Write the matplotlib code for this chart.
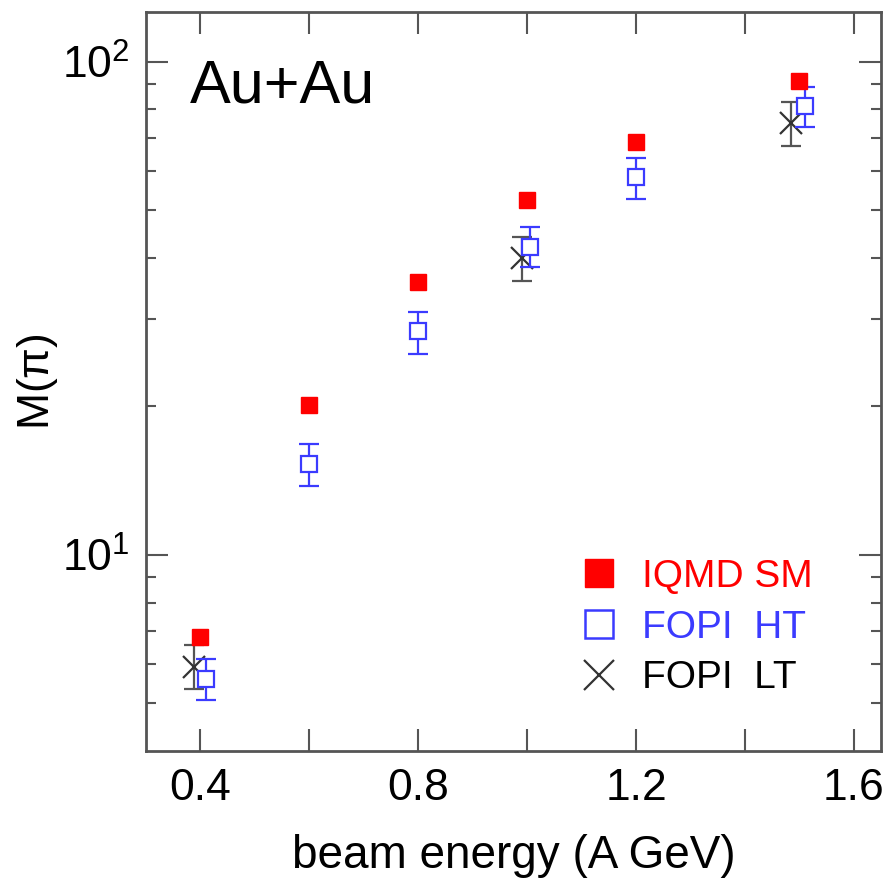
import math
import matplotlib
matplotlib.use("Agg")
import matplotlib.pyplot as plt
from matplotlib.ticker import FixedLocator, NullFormatter, FuncFormatter
from matplotlib.lines import Line2D

plt.rcParams['font.family'] = ['Liberation Sans', 'DejaVu Sans']
plt.rcParams['mathtext.fontset'] = 'custom'
plt.rcParams['mathtext.rm'] = 'Liberation Sans'
plt.rcParams['mathtext.it'] = 'Liberation Sans:italic'
plt.rcParams['mathtext.default'] = 'regular'

# IQMD soft-EOS calculation
iqmd_e = [0.4, 0.6, 0.8, 1.0, 1.2, 1.5]
iqmd_m = [6.8, 20.1, 35.8, 52.4, 68.6, 91.2]

# FOPI high-threshold measurement
ht_e = [0.41, 0.6, 0.8, 1.006, 1.2, 1.51]
ht_m = [5.60, 15.3, 28.4, 42.1, 58.3, 81.4]
ht_lo = [5.07, 13.8, 25.5, 38.3, 52.7, 73.8]
ht_hi = [6.15, 16.8, 31.0, 46.2, 63.7, 88.9]

# FOPI low-threshold measurement
lt_e = [0.388, 0.991, 1.484]
lt_m = [5.91, 39.9, 75.0]
lt_lo = [5.35, 35.9, 67.4]
lt_hi = [6.56, 44.1, 82.8]

x_ticks = [0.4, 0.6, 0.8, 1.0, 1.2, 1.4, 1.6]
x_labels = ['0.4', '', '0.8', '', '1.2', '', '1.6']

red = '#ff0000'
blue = '#3b3bff'
dark = '#333333'

fig = plt.figure(figsize=(8.93, 8.82), dpi=100)
ax = fig.add_axes([146 / 893, 1 - 751 / 882, (881 - 146) / 893, (751 - 12) / 882])
ax.set_yscale('log')
ax.set_xlim(0.3, 1.65)
ax.set_ylim(4.0, 126)

def yerr(m, lo, hi):
    return [[a - b for a, b in zip(m, lo)], [c - a for a, c in zip(m, hi)]]

ax.errorbar(lt_e, lt_m, yerr=yerr(lt_m, lt_lo, lt_hi), fmt='x', color=dark,
            ecolor='#555555', elinewidth=1.6, capsize=7, capthick=1.6,
            markersize=16, markeredgewidth=1.6, zorder=3)
ax.errorbar(ht_e, ht_m, yerr=yerr(ht_m, ht_lo, ht_hi), fmt='s', color=blue,
            mfc='white', mec=blue, ecolor=blue, elinewidth=1.6, capsize=7,
            capthick=1.6, markersize=12, markeredgewidth=1.6, zorder=4)
ax.plot(iqmd_e, iqmd_m, 's', color=red, markersize=12, zorder=5, linestyle='none')

# ticks
ax.xaxis.set_major_locator(FixedLocator(x_ticks))
ax.set_xticklabels(x_labels)
ax.yaxis.set_major_locator(FixedLocator([10, 100]))
ax.yaxis.set_minor_locator(FixedLocator([5, 6, 7, 8, 9, 20, 30, 40, 50, 60, 70, 80, 90]))
ax.yaxis.set_minor_formatter(NullFormatter())
ax.yaxis.set_major_formatter(FuncFormatter(lambda v, p: r'$10^{%d}$' % round(math.log10(v))))
ax.tick_params(which='both', direction='in', top=True, right=True, color='#555555')
ax.tick_params(which='major', length=16, width=1.5, labelsize=32, pad=12)
ax.tick_params(which='minor', length=7.5, width=1.5)
for s in ax.spines.values():
    s.set_linewidth(2.0)
    s.set_color('#555555')

ax.set_xlabel('beam energy (A GeV)', fontsize=33, labelpad=18)
ax.set_ylabel(r'M($\pi$)', fontsize=32, labelpad=1)

ax.text(0.06, 0.898, 'Au+Au', transform=ax.transAxes, fontsize=44,
        ha='left', va='center')

handles = [
    Line2D([], [], marker='s', color=red, linestyle='none', markersize=20),
    Line2D([], [], marker='s', mfc='white', mec=blue, color=blue, linestyle='none',
           markersize=20, markeredgewidth=1.8),
    Line2D([], [], marker='x', color=dark, linestyle='none', markersize=22,
           markeredgewidth=1.6),
]
labels = ['IQMD SM', 'FOPI  HT', 'FOPI  LT']
ax.legend(handles, labels, loc='upper left', bbox_to_anchor=(0.59, 0.26),
          frameon=False, fontsize=28, labelcolor=[red, blue, 'black'],
          handlelength=1.0, handletextpad=0.6, labelspacing=0.38,
          borderaxespad=0.0, borderpad=0.0)

fig.savefig('out.png', dpi=100)
